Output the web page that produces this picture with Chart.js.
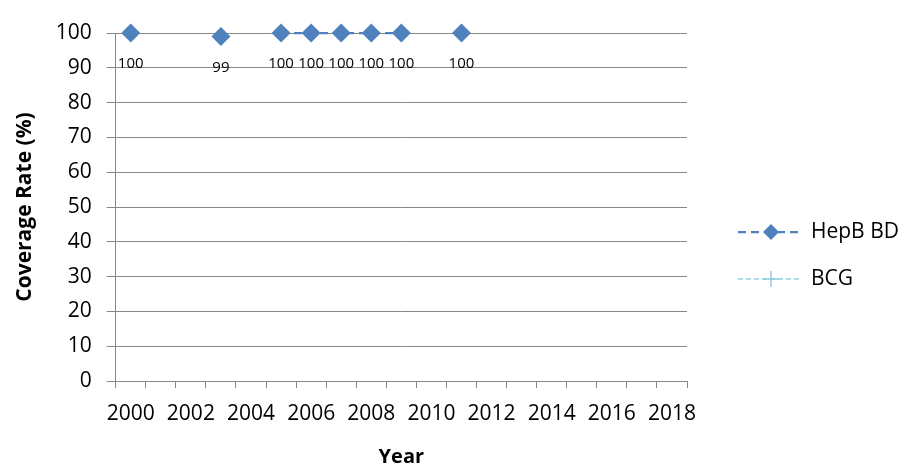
<!DOCTYPE html>
<html>
<head>
<meta charset="utf-8">
<script src="https://cdn.jsdelivr.net/npm/chart.js@4"></script>
<style>
  html, body { margin: 0; padding: 0; background: #fff; }
  #wrap { width: 911px; height: 466px; }
</style>
</head>
<body>
<div id="wrap"><canvas id="coverageChart"></canvas></div>
<script>
const years = ['2000', '2001', '2002', '2003', '2004', '2005', '2006', '2007', '2008', '2009',
               '2010', '2011', '2012', '2013', '2014', '2015', '2016', '2017', '2018'];
const hepbBD = [100, null, null, 99, null, 100, 100, 100, 100, 100,
                null, 100, null, null, null, null, null, null, null];
const bcg = [null, null, null, null, null, null, null, null, null, null,
             null, null, null, null, null, null, null, null, null];

const hepbColor = '#4F81BD';
const bcgColor = '#93CDDD';
const gridColor = '#878787';
const fontFamily = '"Open Sans", "Noto Sans", sans-serif';

// data labels under the HepB BD points
const pointLabels = {
    id: 'pointLabels',
    afterDatasetsDraw(chart) {
        const ctx = chart.ctx;
        const meta = chart.getDatasetMeta(0);
        ctx.save();
        ctx.font = '15px ' + fontFamily;
        ctx.fillStyle = '#000';
        ctx.textAlign = 'center';
        ctx.textBaseline = 'middle';
        meta.data.forEach((pt, i) => {
            const v = hepbBD[i];
            if (v === null) return;
            ctx.fillText(String(v), pt.x, pt.y + 31);
        });
        ctx.restore();
    }
};

// legend on the right: dashed line with the marker in the middle
const sideLegend = {
    id: 'sideLegend',
    afterDraw(chart) {
        const ctx = chart.ctx;
        const items = [
            { text: 'HepB BD', color: hepbColor, dash: [8, 5], width: 2.25, marker: 'diamond', y: 232 },
            { text: 'BCG', color: bcgColor, dash: [5, 3], width: 1.5, marker: 'plus', y: 279 }
        ];
        ctx.save();
        items.forEach(it => {
            ctx.strokeStyle = it.color;
            ctx.lineWidth = it.width;
            ctx.setLineDash(it.dash);
            ctx.beginPath();
            ctx.moveTo(738, it.y);
            ctx.lineTo(802, it.y);
            ctx.stroke();
            ctx.setLineDash([]);
            if (it.marker === 'diamond') {
                ctx.fillStyle = it.color;
                ctx.beginPath();
                ctx.moveTo(771, it.y - 8);
                ctx.lineTo(779, it.y);
                ctx.lineTo(771, it.y + 8);
                ctx.lineTo(763, it.y);
                ctx.closePath();
                ctx.fill();
            } else {
                ctx.lineWidth = 1.5;
                ctx.beginPath();
                ctx.moveTo(771, it.y - 8);
                ctx.lineTo(771, it.y + 8);
                ctx.moveTo(763, it.y);
                ctx.lineTo(779, it.y);
                ctx.stroke();
            }
            ctx.fillStyle = '#000';
            ctx.font = '21px ' + fontFamily;
            ctx.textAlign = 'left';
            ctx.textBaseline = 'middle';
            ctx.fillText(it.text, 811, it.y);
        });
        ctx.restore();
    }
};

const ctx = document.getElementById('coverageChart').getContext('2d');

const coverageChart = new Chart(ctx, {
    type: 'line',
    data: {
        labels: years,
        datasets: [{
            label: 'HepB BD',
            data: hepbBD,
            borderColor: hepbColor,
            backgroundColor: hepbColor,
            borderWidth: 2.25,
            borderDash: [8, 5],
            pointStyle: 'rectRot',
            pointRadius: 9.5,
            pointHoverRadius: 9.5,
            pointBorderWidth: 0,
            spanGaps: false,
            clip: false,
            fill: false,
            tension: 0
        }, {
            label: 'BCG',
            data: bcg,
            borderColor: bcgColor,
            backgroundColor: bcgColor,
            borderWidth: 1.5,
            borderDash: [5, 3],
            pointStyle: 'cross',
            pointRadius: 8,
            spanGaps: false,
            clip: false,
            fill: false
        }]
    },
    options: {
        responsive: true,
        maintainAspectRatio: false,
        animation: false,
        layout: {
            padding: { left: 0, top: 33, right: 224, bottom: 0 }
        },
        scales: {
            x: {
                type: 'category',
                offset: true,
                grid: {
                    offset: true,
                    drawOnChartArea: false,
                    drawTicks: true,
                    tickLength: 7,
                    color: gridColor
                },
                border: { display: true, color: gridColor, width: 1 },
                ticks: {
                    autoSkip: false,
                    maxRotation: 0,
                    padding: 13,
                    color: '#000',
                    font: { family: fontFamily, size: 21 },
                    callback: function(value, index) {
                        return index % 2 === 0 ? this.getLabelForValue(value) : ''; // every second year
                    }
                },
                title: {
                    display: true,
                    text: 'Year',
                    color: '#000',
                    font: { family: fontFamily, size: 20, weight: 'bold' },
                    padding: { top: 0, bottom: -3 }
                },
                afterFit: function(scale) { scale.height = 85; }
            },
            y: {
                min: 0,
                max: 100,
                grid: {
                    color: gridColor,
                    tickLength: 9,
                    drawTicks: true
                },
                border: { display: true, color: gridColor, width: 1 },
                ticks: {
                    stepSize: 10,
                    padding: 15,
                    color: '#000',
                    font: { family: fontFamily, size: 21 }
                },
                title: {
                    display: true,
                    text: 'Coverage Rate (%)',
                    color: '#000',
                    font: { family: fontFamily, size: 21, weight: 'bold' },
                    padding: { top: 12, bottom: 0 }
                },
                afterFit: function(scale) { scale.width = 115.7; }
            }
        },
        plugins: {
            legend: { display: false },
            tooltip: { enabled: false },
            title: { display: false }
        }
    },
    plugins: [pointLabels, sideLegend]
});
</script>
</body>
</html>
